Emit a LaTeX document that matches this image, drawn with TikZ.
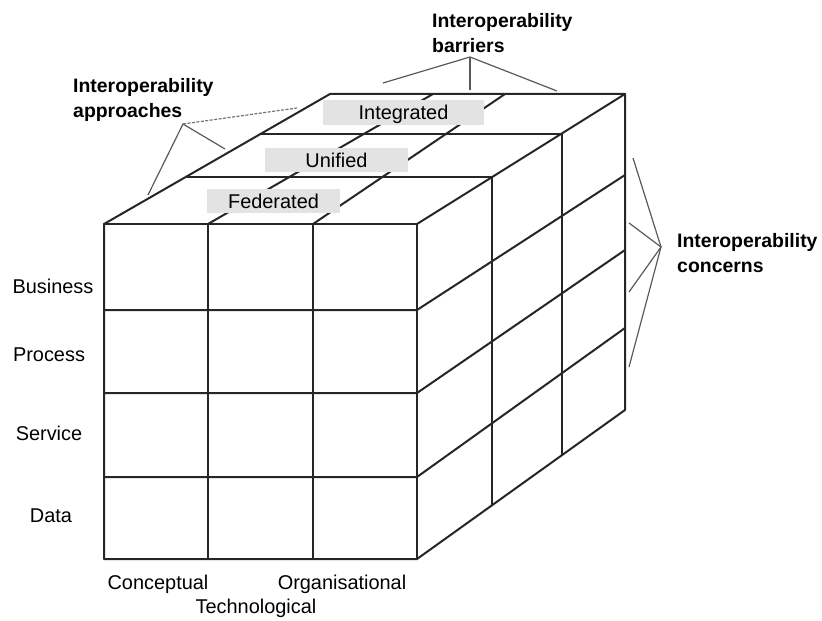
\documentclass[tikz,border=0pt]{standalone}
\usepackage{fontspec}
\setmainfont{Liberation Sans}
\begin{document}
\begin{tikzpicture}[x=1bp,y=-1bp,
  cube/.style={draw=black!85, line width=2bp, line cap=round, line join=round},
  conn/.style={draw=black!65, line width=1.2bp},
  dconn/.style={draw=black!55, line width=1.2bp, dash pattern=on 3bp off 1.5bp},
  lbl/.style={font=\fontsize{20}{24}\selectfont, inner sep=0pt, text height=14.5bp, text depth=0bp},
  blbl/.style={font=\fontsize{19.5}{25}\selectfont\bfseries, align=left, inner sep=0pt, anchor=north west},
  layer/.style={fill=black!11, inner sep=0pt, text height=14.5bp, text depth=0bp,
                font=\fontsize{20}{24}\selectfont}]
\useasboundingbox (0,0) rectangle (822,621);

% key points of the cube
\coordinate (FTL) at (104,224);
\coordinate (FTR) at (417,224);
\coordinate (FBR) at (417,559);
\coordinate (FBL) at (104,559);
\coordinate (BTL) at (330,94);
\coordinate (BTR) at (625,94);
\coordinate (BBR) at (625,410);

% top face: barrier lines (drawn first, boxes cover them)
\coordinate (b1f) at (208,224); \coordinate (b1b) at (433,94);
\coordinate (b2f) at (313,224); \coordinate (b2b) at (505,94);
\draw[cube] (b1f) -- (b1b);
\draw[cube] (b2f) -- (b2b);

% top face depth lines
\coordinate (d1l) at (187,177); \coordinate (d1r) at (492,177);
\coordinate (d2l) at (260,134); \coordinate (d2r) at (562,134);
\draw[cube] (d1l) -- (d1r);
\draw[cube] (d2l) -- (d2r);

% approach boxes
\node[layer, minimum width=161bp, minimum height=25bp] (integ) at (403.5,112.5) {Integrated};
\node[layer, minimum width=143bp, minimum height=24bp] (unif) at (336.5,160) {Unified};
\node[layer, minimum width=133bp, minimum height=24bp] (feder) at (273.5,201) {Federated};

% cube outline
\draw[cube] (FBL) -- (FTL) -- (BTL) -- (BTR) -- (BBR) -- (FBR) -- cycle;
\draw[cube] (FTL) -- (FTR) -- (FBR);
\draw[cube] (FTR) -- (BTR);

% front face grid
\coordinate (c1t) at (208,224); \coordinate (c1b) at (208,559);
\coordinate (c2t) at (313,224); \coordinate (c2b) at (313,559);
\draw[cube] (c1t) -- (c1b);
\draw[cube] (c2t) -- (c2b);
\coordinate (r1l) at (104,310); \coordinate (r1m) at (417,310); \coordinate (r1r) at (625,175);
\coordinate (r2l) at (104,393); \coordinate (r2m) at (417,393); \coordinate (r2r) at (625,250);
\coordinate (r3l) at (104,477); \coordinate (r3m) at (417,477); \coordinate (r3r) at (625,328);
\draw[cube] (r1l) -- (r1m) -- (r1r);
\draw[cube] (r2l) -- (r2m) -- (r2r);
\draw[cube] (r3l) -- (r3m) -- (r3r);

% right face verticals
\coordinate (v1b) at (492,505);
\coordinate (v2b) at (562,455);
\draw[cube] (d1r) -- (v1b);
\draw[cube] (d2r) -- (v2b);

% row labels
\node[lbl] (business) at (53,286) {Business};
\node[lbl] (process) at (49,354) {Process};
\node[lbl] (service) at (49,433) {Service};
\node[lbl] (data) at (51,515) {Data};

% column labels
\node[lbl] (concept) at (158,582) {Conceptual};
\node[lbl] (organ) at (342,582) {Organisational};
\node[lbl] (techno) at (256,606) {Technological};

% group labels
\node[blbl] (barriers) at (432,13) {Interoperability\\barriers};
\node[blbl] (approaches) at (73,78) {Interoperability\\approaches};
\node[blbl] (concerns) at (677,233) {Interoperability\\concerns};

% barrier connectors
\coordinate (ba) at (470,57);
\coordinate (ba1) at (383,83);
\coordinate (ba2) at (470,90);
\coordinate (ba3) at (557,91);
\draw[conn] (ba1) -- (ba) -- (ba3);
\draw[conn] (ba) -- (ba2);

% approach connectors
\coordinate (aa) at (183,124);
\coordinate (aa1) at (148,195);
\coordinate (aa2) at (225,149);
\coordinate (aa3) at (297,108);
\draw[conn] (aa1) -- (aa) -- (aa2);
\draw[dconn] (aa) -- (aa3);

% concern connectors
\coordinate (ca) at (661,247);
\coordinate (ca1) at (633,158);
\coordinate (ca2) at (629,223);
\coordinate (ca3) at (629,292);
\coordinate (ca4) at (629,367);
\draw[conn] (ca1) -- (ca) -- (ca4);
\draw[conn] (ca2) -- (ca) -- (ca3);
\end{tikzpicture}
\end{document}
